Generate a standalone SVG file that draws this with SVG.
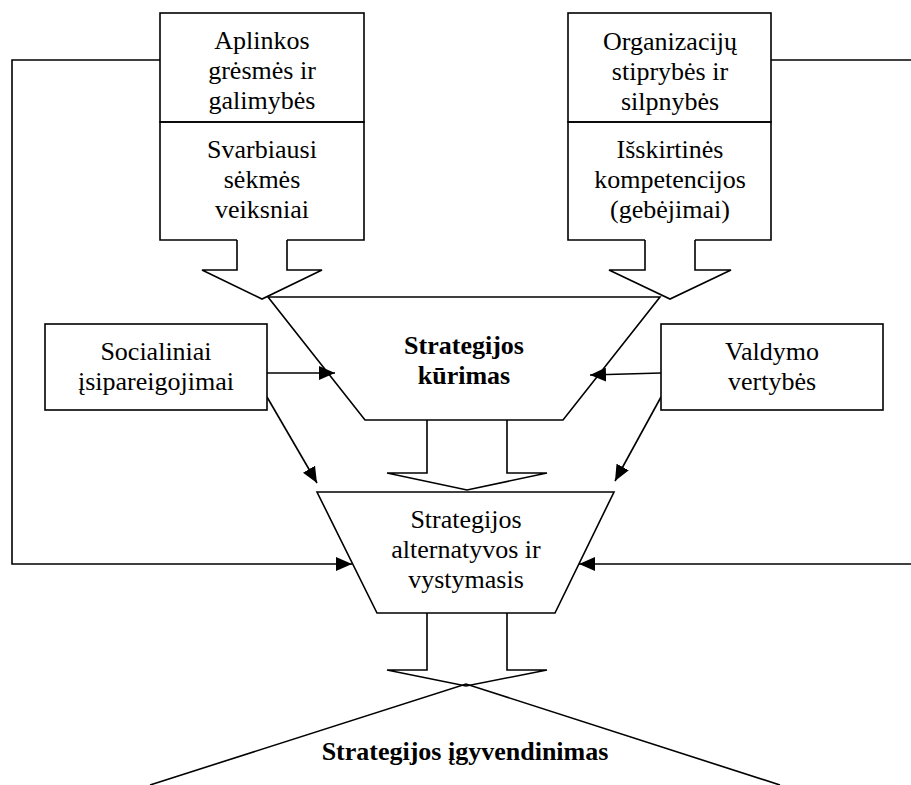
<svg xmlns="http://www.w3.org/2000/svg" width="911" height="785" viewBox="0 0 911 785">
  <style>
    .shape { fill: none; stroke: #000; stroke-width: 1.6; stroke-linejoin: miter; }
    .box { fill: #fff; stroke: #000; stroke-width: 1.6; }
    .line { fill: none; stroke: #000; stroke-width: 1.6; }
    .arrow { fill: none; stroke: #000; stroke-width: 1.6; marker-end: url(#head); }
    text { font-family: 'Liberation Serif', 'Times New Roman', serif; font-size: 26px; fill: #000; text-anchor: middle; }
    .bold { font-weight: bold; }
  </style>
  <defs>
    <marker id="head" viewBox="0 0 16 14" refX="16" refY="7" markerWidth="16" markerHeight="14" markerUnits="userSpaceOnUse" orient="auto">
      <path d="M0,0 L16,7 L0,14 Z" fill="#000"/>
    </marker>
  </defs>

  <rect width="911" height="785" fill="#fff"/>

  <!-- connectors -->
  <g id="connectors">
    <!-- feedback lines to the alternatives stage -->
    <path class="arrow" d="M160,60 H12 V564 H352"/>
    <path class="line" d="M771,60 H911"/>
    <path class="arrow" d="M911,564 H579"/>
    <!-- side inputs -->
    <path class="arrow" d="M267,373 H335"/>
    <path class="arrow" d="M267,397 L317,483"/>
    <path class="arrow" d="M661,373 L590,375"/>
    <path class="arrow" d="M661,397 L615,481"/>
    <!-- block arrows -->
    <path class="shape" d="M237,240 V270 H202 L262,299 L322,270 H287 V240"/>
    <path class="shape" d="M645,240 V270 H609 L670,299 L731,270 H695 V240"/>
    <path class="shape" d="M427,420 V473 H387 L467,490 L547,473 H507 V420"/>
    <path class="shape" d="M427,613 V670 H387 L466,686 L547,670 H507 V613"/>
  </g>

  <g id="aplinkos">
    <rect class="box" x="160" y="13" width="204" height="109"/>
    <text x="262" y="49">Aplinkos</text>
    <text x="262" y="79">grėsmės ir</text>
    <text x="262" y="109">galimybės</text>
  </g>

  <g id="svarbiausi">
    <path class="shape" d="M237,240 H160 V122 H364 V240 H287"/>
    <text x="262" y="158">Svarbiausi</text>
    <text x="262" y="188">sėkmės</text>
    <text x="262" y="218">veiksniai</text>
  </g>

  <g id="organizaciju">
    <rect class="box" x="568" y="13" width="203" height="109"/>
    <text x="670" y="50">Organizacijų</text>
    <text x="670" y="80">stiprybės ir</text>
    <text x="670" y="110">silpnybės</text>
  </g>

  <g id="kompetencijos">
    <path class="shape" d="M645,240 H568 V122 H771 V240 H695"/>
    <text x="670" y="158">Išskirtinės</text>
    <text x="670" y="188">kompetencijos</text>
    <text x="670" y="218">(gebėjimai)</text>
  </g>

  <g id="socialiniai">
    <rect class="box" x="45" y="324" width="222" height="86"/>
    <text x="156" y="360">Socialiniai</text>
    <text x="156" y="390">įsipareigojimai</text>
  </g>

  <g id="valdymo">
    <rect class="box" x="661" y="324" width="222" height="86"/>
    <text x="772" y="360">Valdymo</text>
    <text x="772" y="390">vertybės</text>
  </g>

  <g id="kurimas">
    <path class="shape" d="M268,297 H660 L563,420 H365 Z"/>
    <text class="bold" x="464" y="354">Strategijos</text>
    <text class="bold" x="464" y="384">kūrimas</text>
  </g>

  <g id="alternatyvos">
    <path class="shape" d="M317,492 H614 L555,613 H377 Z"/>
    <text x="466" y="528">Strategijos</text>
    <text x="466" y="558">alternatyvos ir</text>
    <text x="466" y="588">vystymasis</text>
  </g>

  <g id="igyvendinimas">
    <path class="shape" d="M150,785 L466,684 L780,785"/>
    <text class="bold" x="465" y="760">Strategijos įgyvendinimas</text>
  </g>
</svg>
